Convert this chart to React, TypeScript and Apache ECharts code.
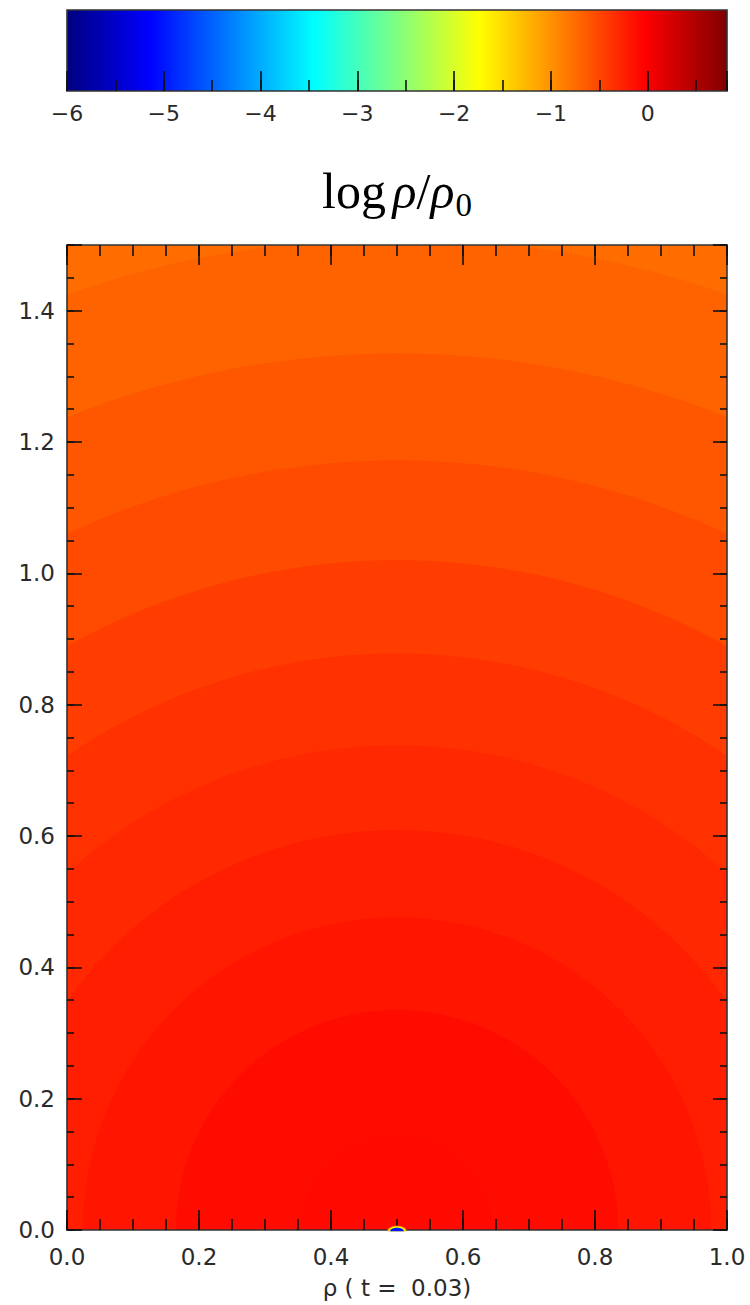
import React, { useEffect, useRef } from 'react';
import * as echarts from 'echarts';

// ---- colour scale: log rho/rho0 (jet) ----
const colorScaleMin = -6;
const colorScaleMax = 0.82;
const jetColors = ['#000080', '#0000ff', '#0080ff', '#00ffff', '#80ff80', '#ffff00', '#ff8000', '#ff0000', '#800000'];
const colorbarMajorStep = 1;
const colorbarMinorStep = 0.5;

// ---- density contours: radius (from the core centre) of each contour, outermost first ----
const coreCenter = [0.5, 0];
const contourRadii = [1.51, 1.335, 1.172, 1.02, 0.878, 0.738, 0.609, 0.476, 0.335, 0.145];
// log rho/rho0 outside the first contour, then inside each successive contour
const backgroundLevel = -0.76;
const bandLevels = [-0.69, -0.61, -0.53, -0.44, -0.36, -0.3, -0.23, -0.17, -0.11, -0.095];

// ---- small low-density spot at the base centre (half-widths, half-heights, levels) ----
const spotBaseY = -0.002;
const spotRx = [0.0148, 0.0125, 0.0105];
const spotRy = [0.0085, 0.0072, 0.0055];
const spotLevels = [-1.1, -1.8, -5.0];

// ---- axes ----
const xRange = [0, 1];
const yRange = [0, 1.5];
const xMajorStep = 0.2;
const xMinorStep = 0.05;
const yMajorStep = 0.2;
const yMinorStep = 0.05;
const xAxisName = 'ρ ( t =  0.03)';

const LABEL_FONT = 'DejaVu Sans';
const SERIF = 'Liberation Serif';

const onStep = (v: number, step: number) => Math.abs(v / step - Math.round(v / step)) < 1e-6;

function buildOption() {
  const tickStyle = { color: '#111', width: 1.6 };
  const frameStyle = { color: '#333', width: 1.6 };
  const axisBase = (extra: any) => ({
    type: 'value',
    z: 10,
    splitLine: { show: false },
    minorTick: { show: false },
    ...extra,
  });

  const xAxes = [
    axisBase({
      gridIndex: 0, min: xRange[0], max: xRange[1], interval: xMajorStep, position: 'bottom',
      axisLine: { show: true, onZero: false, lineStyle: frameStyle },
      axisTick: { show: true, inside: true, length: 20, lineStyle: tickStyle },
      axisLabel: {
        show: true, margin: 15, fontSize: 23, fontFamily: LABEL_FONT, color: '#2a2a2a',
        formatter: (v: number) => (onStep(v, xMajorStep) ? v.toFixed(1) : ''),
      },
      name: xAxisName, nameLocation: 'middle', nameGap: 46,
      nameTextStyle: { fontSize: 23, fontFamily: LABEL_FONT, color: '#2a2a2a' },
    }),
    axisBase({
      gridIndex: 0, min: xRange[0], max: xRange[1], interval: xMinorStep, position: 'bottom',
      axisLine: { show: false, onZero: false },
      axisTick: { show: true, inside: true, length: 11, lineStyle: tickStyle },
      axisLabel: { show: false },
    }),
    axisBase({
      gridIndex: 0, min: xRange[0], max: xRange[1], interval: xMajorStep, position: 'top',
      axisLine: { show: true, onZero: false, lineStyle: frameStyle },
      axisTick: { show: true, inside: true, length: 20, lineStyle: tickStyle },
      axisLabel: { show: false },
    }),
    axisBase({
      gridIndex: 0, min: xRange[0], max: xRange[1], interval: xMinorStep, position: 'top',
      axisLine: { show: false, onZero: false },
      axisTick: { show: true, inside: true, length: 11, lineStyle: tickStyle },
      axisLabel: { show: false },
    }),
    axisBase({
      gridIndex: 1, min: colorScaleMin, max: colorScaleMax, interval: colorbarMajorStep, position: 'bottom',
      axisLine: { show: false, onZero: false },
      axisTick: { show: true, inside: true, length: 20, lineStyle: tickStyle },
      axisLabel: {
        show: true, margin: 11, fontSize: 22, fontFamily: LABEL_FONT, color: '#2a2a2a',
        formatter: (v: number) =>
          onStep(v, colorbarMajorStep) ? (v < 0 ? '\u2212' + Math.abs(Math.round(v)) : String(Math.round(v))) : '',
      },
    }),
    axisBase({
      gridIndex: 1, min: colorScaleMin, max: colorScaleMax, interval: colorbarMinorStep, position: 'bottom',
      axisLine: { show: false, onZero: false },
      axisTick: { show: true, inside: true, length: 11, lineStyle: tickStyle },
      axisLabel: { show: false },
    }),
  ];

  const yAxes = [
    axisBase({
      gridIndex: 0, min: yRange[0], max: yRange[1], interval: yMajorStep, position: 'left',
      axisLine: { show: true, onZero: false, lineStyle: frameStyle },
      axisTick: { show: true, inside: true, length: 15, lineStyle: tickStyle },
      axisLabel: {
        show: true, margin: 12, fontSize: 23, fontFamily: LABEL_FONT, color: '#2a2a2a',
        formatter: (v: number) => (onStep(v, yMajorStep) && v < yRange[1] - 1e-9 ? v.toFixed(1) : ''),
      },
    }),
    axisBase({
      gridIndex: 0, min: yRange[0], max: yRange[1], interval: yMinorStep, position: 'left',
      axisLine: { show: false, onZero: false },
      axisTick: { show: true, inside: true, length: 7, lineStyle: tickStyle },
      axisLabel: { show: false },
    }),
    axisBase({
      gridIndex: 0, min: yRange[0], max: yRange[1], interval: yMajorStep, position: 'right',
      axisLine: { show: true, onZero: false, lineStyle: frameStyle },
      axisTick: { show: true, inside: true, length: 14, lineStyle: tickStyle },
      axisLabel: { show: false },
    }),
    axisBase({
      gridIndex: 0, min: yRange[0], max: yRange[1], interval: yMinorStep, position: 'right',
      axisLine: { show: false, onZero: false },
      axisTick: { show: true, inside: true, length: 7, lineStyle: tickStyle },
      axisLabel: { show: false },
    }),
    axisBase({
      gridIndex: 1, min: 0, max: 1, show: false,
      axisLine: { show: false, onZero: false },
    }),
  ];

  const renderBackground = (params: any, api: any) => {
    const cs = params.coordSys;
    return {
      type: 'rect',
      shape: { x: cs.x, y: cs.y, width: cs.width, height: cs.height },
      style: { fill: api.visual('color') },
    };
  };

  const renderBand = (_params: any, api: any) => {
    const r = api.value(1);
    const pts: number[][] = [];
    for (let k = 0; k <= 180; k++) {
      const a = (Math.PI * k) / 180;
      pts.push(api.coord([coreCenter[0] + r * Math.cos(a), coreCenter[1] + r * Math.sin(a)]));
    }
    return { type: 'polygon', shape: { points: pts }, style: { fill: api.visual('color') } };
  };

  const renderSpot = (_params: any, api: any) => {
    const rx = api.value(1);
    const ry = api.value(2);
    const pts: number[][] = [];
    for (let k = 0; k <= 60; k++) {
      const a = (Math.PI * k) / 60;
      pts.push(api.coord([coreCenter[0] + rx * Math.cos(a), spotBaseY + ry * Math.sin(a)]));
    }
    return { type: 'polygon', shape: { points: pts }, style: { fill: api.visual('color') } };
  };

  const renderColorbar = (_params: any, api: any) => {
    const p0 = api.coord([api.value(0), 1]);
    const p1 = api.coord([api.value(1), 0]);
    const stops = jetColors.map((c, i) => ({ offset: i / (jetColors.length - 1), color: c }));
    return {
      type: 'rect',
      shape: { x: p0[0], y: p0[1], width: p1[0] - p0[0], height: p1[1] - p0[1] },
      style: {
        fill: new echarts.graphic.LinearGradient(0, 0, 1, 0, stops),
        stroke: '#333',
        lineWidth: 1.6,
      },
    };
  };

  return {
    animation: false,
    backgroundColor: '#ffffff',
    title: {
      text: '{r|log}{sp| }{i|ρ}{r|/}{i|ρ}{s|0}',
      left: 397,
      top: 161,
      padding: 0,
      textAlign: 'center',
      textStyle: {
        fontWeight: 'normal',
        rich: {
          r: { fontFamily: SERIF, fontSize: 50, fontWeight: 'normal', color: '#000' },
          sp: { fontFamily: SERIF, fontSize: 26, fontWeight: 'normal', color: '#000' },
          i: { fontFamily: SERIF, fontSize: 50, fontWeight: 'normal', fontStyle: 'italic', color: '#000' },
          s: { fontFamily: SERIF, fontSize: 33, fontWeight: 'normal', color: '#000', padding: [27, 0, 0, 1] },
        },
      },
    },
    grid: [
      { left: 67, top: 245, width: 660, height: 985, containLabel: false },
      { left: 67, top: 10, width: 660, height: 81, containLabel: false },
    ],
    xAxis: xAxes,
    yAxis: yAxes,
    visualMap: {
      type: 'continuous',
      show: false,
      min: colorScaleMin,
      max: colorScaleMax,
      dimension: 0,
      seriesIndex: [0, 1, 2],
      inRange: { color: jetColors },
    },
    series: [
      {
        type: 'custom',
        xAxisIndex: 0,
        yAxisIndex: 0,
        clip: true,
        z: 1,
        renderItem: renderBackground,
        data: [[backgroundLevel]],
      },
      {
        type: 'custom',
        xAxisIndex: 0,
        yAxisIndex: 0,
        clip: true,
        z: 2,
        renderItem: renderBand,
        data: contourRadii.map((r, i) => [bandLevels[i], r]),
      },
      {
        type: 'custom',
        xAxisIndex: 0,
        yAxisIndex: 0,
        clip: false,
        z: 11,
        renderItem: renderSpot,
        data: spotRx.map((rx, i) => [spotLevels[i], rx, spotRy[i]]),
      },
      {
        type: 'custom',
        xAxisIndex: 4,
        yAxisIndex: 4,
        z: 2,
        renderItem: renderColorbar,
        data: [[colorScaleMin, colorScaleMax]],
      },
    ],
  };
}

export default function App() {
  const ref = useRef<HTMLDivElement>(null);
  useEffect(() => {
    if (!ref.current) return;
    const chart = echarts.init(ref.current, null, { renderer: 'svg' });
    chart.setOption(buildOption() as any);
    return () => chart.dispose();
  }, []);
  return (
    <div
      ref={ref}
      style={{ width: 750, height: 1305, position: 'absolute', left: 0, top: 0, background: '#fff' }}
    />
  );
}
